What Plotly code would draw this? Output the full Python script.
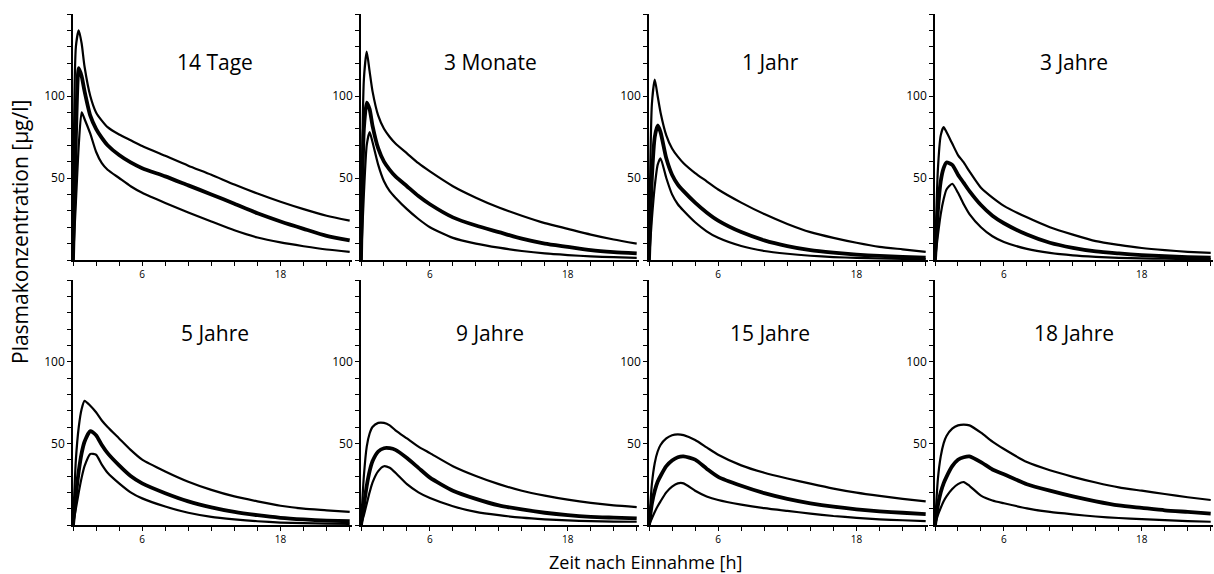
import plotly.graph_objects as go

# Time grid in hours after intake
hours = [0, 0.25, 0.5, 0.75, 1, 1.5, 2, 2.5, 3, 4, 5, 6, 8, 10, 12, 14, 16, 18, 20, 22, 24]

age_groups = ["14 Tage", "3 Monate", "1 Jahr", "3 Jahre",
              "5 Jahre", "9 Jahre", "15 Jahre", "18 Jahre"]

# Plasma concentration [µg/l]: upper percentile, median, lower percentile per age group
upper = {
    "14 Tage":  [0, 130, 140, 132, 118, 100, 90, 85, 81, 76.5, 73, 69.5, 63.5, 57.5, 52, 46, 40.5, 35.5, 31, 27, 24],
    "3 Monate": [0, 110, 127, 115, 103, 88, 80, 75, 71, 65, 59, 54, 45, 38, 32, 27, 22.5, 19, 15.5, 12.5, 10],
    "1 Jahr":   [0, 95, 110, 100, 90, 76, 68, 63, 59, 53, 48, 43, 35, 28, 22, 17, 13.5, 10.5, 8, 6.5, 5],
    "3 Jahre":  [0, 55, 76, 81, 78, 71, 64, 59.5, 54, 44, 38, 33, 26, 20, 15.5, 11.5, 9.2, 7.3, 6, 5, 4.3],
    "5 Jahre":  [0, 40, 60, 71, 76, 73, 69, 64, 60, 53, 46, 40, 32.8, 26.5, 21.5, 17.5, 14.5, 11.8, 10, 9, 8],
    "9 Jahre":  [0, 30, 48, 56, 60, 62.5, 62.5, 61, 58, 53, 48, 44, 36, 30, 25, 21, 18, 15.5, 13.5, 12, 11],
    "15 Jahre": [0, 25, 38, 45, 49, 53, 55, 55.5, 55, 52, 47.5, 43, 36.5, 32, 28.5, 25.3, 22.3, 19.8, 17.8, 16, 14.5],
    "18 Jahre": [0, 28, 42, 50, 54.5, 59, 61, 61.5, 61, 56.5, 51, 46.5, 38.5, 33.5, 29.5, 26, 23, 21, 19, 17, 15.3],
}
median = {
    "14 Tage":  [0, 75, 117, 112, 103, 88, 80, 74.5, 70, 64, 59.5, 56, 51, 45.5, 40, 34.3, 28.5, 23.5, 19, 14.7, 12],
    "3 Monate": [0, 80, 96, 92, 82, 68, 60, 55, 51, 45, 39, 34, 26, 21, 17, 13, 10, 8, 6, 4.8, 4],
    "1 Jahr":   [0, 50, 75, 82, 78, 62, 52, 46, 42, 35, 29, 24, 17, 12, 8.5, 6, 4.5, 3.3, 2.5, 1.9, 1.5],
    "3 Jahre":  [0, 30, 48, 56, 59.5, 58, 52, 47, 42, 33.5, 27, 22.4, 15.5, 10.5, 7.4, 5.2, 4, 3, 2.3, 1.8, 1.5],
    "5 Jahre":  [0, 18, 33, 44, 51, 57.5, 55, 49, 44, 36.5, 30, 25.5, 19.5, 14.5, 10.8, 8, 6, 4.4, 3.4, 2.7, 2.3],
    "9 Jahre":  [0, 12, 24, 33, 39, 45, 47, 47, 46, 41, 35, 29, 21, 16, 12, 9.5, 7.5, 6, 5, 4.5, 4],
    "15 Jahre": [0, 13, 21, 26.5, 30, 36, 39.5, 41.5, 42, 40, 34.5, 29.5, 24, 19.5, 16, 13.3, 11.2, 9.6, 8.4, 7.5, 6.7],
    "18 Jahre": [0, 12, 20, 25.5, 29.5, 36, 40, 41.5, 42, 38.5, 34, 31, 25, 21, 17.5, 14.5, 12, 10.5, 9, 8, 7],
}
lower = {
    "14 Tage":  [0, 35, 70, 90, 86, 77, 66, 59, 55, 50, 45, 41, 34.8, 29, 23.5, 18.1, 13.7, 10.7, 8.4, 6.4, 5],
    "3 Monate": [0, 40, 70, 78, 72, 58, 48, 42, 38, 31, 25, 20, 13.5, 10, 7.5, 5.5, 4, 3, 2.2, 1.7, 1.3],
    "1 Jahr":   [0, 25, 45, 58, 62, 50, 40, 34, 30, 23, 17.5, 13.5, 8.5, 5.5, 3.8, 2.6, 1.8, 1.3, 0.9, 0.7, 0.5],
    "3 Jahre":  [0, 15, 28, 37, 43, 46.5, 41, 34, 28, 20, 14.5, 11, 6.8, 4.3, 2.8, 1.9, 1.3, 1, 0.8, 0.6, 0.5],
    "5 Jahre":  [0, 10, 20, 29, 36, 43.5, 43, 37, 32, 25.5, 20, 16.3, 11.3, 7.5, 5, 3.5, 2.3, 1.5, 1.1, 0.8, 0.7],
    "9 Jahre":  [0, 6, 13, 20, 26, 33, 36, 35, 32, 25, 20, 16.5, 11.5, 8, 6, 4.5, 3.5, 2.8, 2.4, 2.1, 2],
    "15 Jahre": [0, 4, 8, 11.5, 14.5, 20, 23.5, 25.5, 25.5, 21, 17.5, 15.3, 12.5, 10.3, 8.6, 7, 5.5, 4.4, 3.5, 2.9, 2.4],
    "18 Jahre": [0, 6, 10.5, 14.5, 17.5, 22, 25, 26.3, 24, 18, 15, 13.3, 10.2, 8, 6.5, 5.2, 4.3, 3.6, 3, 2.4, 2],
}

x_ticks = list(range(0, 25, 2))
x_labels = ["6" if v == 6 else "18" if v == 18 else "" for v in x_ticks]
y_ticks = list(range(0, 151, 10))
y_labels = ["50" if v == 50 else "100" if v == 100 else "" for v in y_ticks]

W, H = 1214, 574
col_px = [(73, 352), (361, 639), (649, 928), (935, 1213)]
row_px = [(14, 260), (280, 525)]

fig = go.Figure()
layout = {}
for i, name in enumerate(age_groups):
    r, c = divmod(i, 4)
    n = i + 1
    xa = "x" if n == 1 else f"x{n}"
    ya = "y" if n == 1 else f"y{n}"
    for series, width in ((upper, 2.2), (lower, 2.2), (median, 3.8)):
        fig.add_trace(go.Scatter(
            x=hours, y=series[name], xaxis=xa, yaxis=ya, mode="lines",
            line=dict(color="black", width=width, shape="spline", smoothing=0.6),
            showlegend=False, hoverinfo="skip"))
    x0, x1 = col_px[c]
    y0, y1 = row_px[r]
    layout[f"xaxis{n}"] = dict(
        domain=[x0 / W, x1 / W], range=[0, 24.2], anchor=ya,
        showgrid=False, zeroline=False, showline=True, linecolor="black", linewidth=1.6,
        ticks="outside", ticklen=4, tickwidth=1.3, tickcolor="black",
        tickvals=x_ticks, ticktext=x_labels,
        tickfont=dict(family="Open Sans", size=10, color="black"))
    layout[f"yaxis{n}"] = dict(
        domain=[(H - y1) / H, (H - y0) / H], range=[0, 150], anchor=xa,
        showgrid=False, zeroline=False, showline=True, linecolor="black", linewidth=1.6,
        ticks="outside", ticklen=4, tickwidth=1.3, tickcolor="black",
        tickvals=y_ticks, ticktext=y_labels,
        tickfont=dict(family="Open Sans", size=12, color="black"))

annotations = []
title_x = [215, 490, 770, 1074]
title_y = [62, 333]
for i, name in enumerate(age_groups):
    r, c = divmod(i, 4)
    annotations.append(dict(
        text=name, x=title_x[c] / W, y=(H - title_y[r]) / H, xref="paper", yref="paper",
        showarrow=False, xanchor="center", yanchor="middle",
        font=dict(family="Open Sans", size=21, color="black")))

annotations.append(dict(
    text="Zeit nach Einnahme [h]", x=645 / W, y=(H - 562) / H, xref="paper", yref="paper",
    showarrow=False, xanchor="center", yanchor="middle",
    font=dict(family="Open Sans", size=18, color="black")))
annotations.append(dict(
    text="Plasmakonzentration [µg/l]", x=20 / W, y=(H - 232) / H, xref="paper", yref="paper",
    showarrow=False, xanchor="center", yanchor="middle", textangle=-90,
    font=dict(family="Open Sans", size=21, color="black")))

fig.update_layout(
    width=W, height=H, margin=dict(l=0, r=0, t=0, b=0),
    paper_bgcolor="white", plot_bgcolor="white",
    annotations=annotations, **layout)

fig.write_html("out.html")
